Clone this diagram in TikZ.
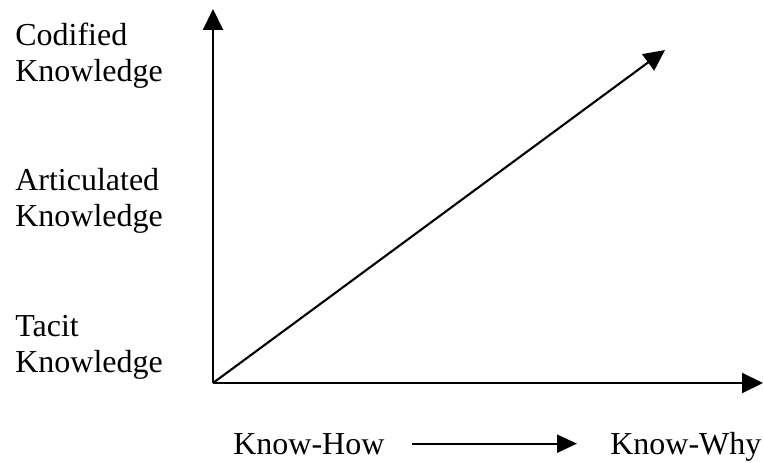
\documentclass[tikz,border=0pt]{standalone}
\usepackage{fontspec}
\setmainfont{Liberation Serif}
\usetikzlibrary{arrows.meta,calc}

\begin{document}
\begin{tikzpicture}[>={Triangle[length=0.42cm,width=0.4cm]}]
			\tikzset{
				axis/.style={line width=1.2pt, ->},
				lbl/.style={anchor=base west, inner sep=0pt, align=left, font=\fontsize{18.2}{20.6}\selectfont}
			}
			\useasboundingbox (0,0) rectangle (15.26,9.26);

			\coordinate (O) at (4.26,1.6);
			\coordinate (ytop) at (4.26,9.08);
			\coordinate (xend) at (15.26,1.6);
			\coordinate (diag) at (13.3,8.26);

			\draw [axis] (O) -- (ytop);
			\draw [axis] (O) -- (xend);
			\draw [axis] (O) -- (diag);

			% base anchor sits on the second line
			\node (codified) [lbl] at (0.3,7.62) {Codified\\Knowledge};
			\node (articulated) [lbl] at (0.3,4.72) {Articulated\\Knowledge};
			\node (tacit) [lbl] at (0.3,1.8) {Tacit\\Knowledge};

			\node (how) [lbl] at (4.66,0.16) {Know-How};
			\node (why) [lbl] at (12.2,0.16) {Know-Why};
			\draw [axis, >={Triangle[length=0.4cm,width=0.36cm]}, shorten <=0.54cm, shorten >=0.66cm] ($(how.east)+(0,0.02)$) -- ($(why.west |- how.east)+(0,0.02)$);
		\end{tikzpicture}
\end{document}
